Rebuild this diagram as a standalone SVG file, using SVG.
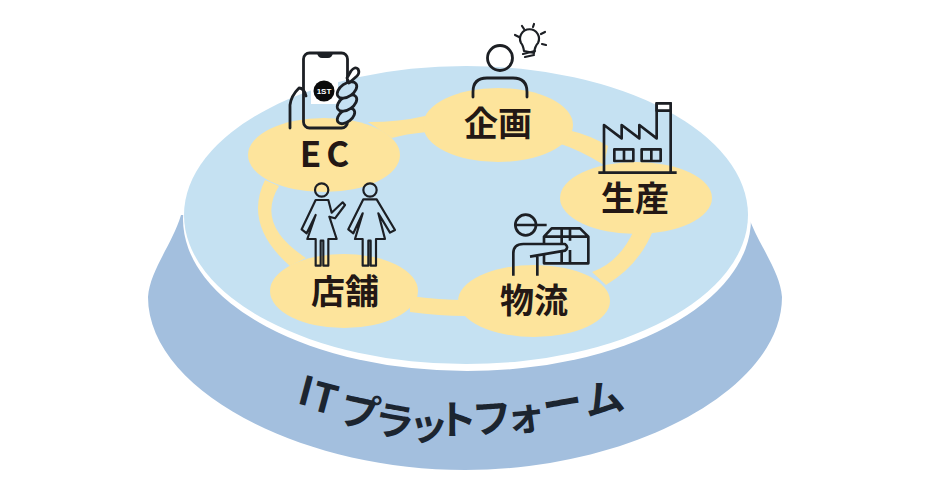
<svg xmlns="http://www.w3.org/2000/svg" width="930" height="495" viewBox="0 0 930 495">
<style>
.lbl{font-family:"Noto Sans CJK JP","Noto Sans",sans-serif;font-weight:700;fill:#231815;text-anchor:middle}
.spot{fill:#fde49c}
.link{fill:#fde49c}
.ic{fill:none;stroke:#1c1f24;stroke-width:2.800;stroke-linecap:round;stroke-linejoin:round}
.ic3{fill:none;stroke:#1c1f24;stroke-width:8;stroke-linejoin:round}
</style>
<rect width="930" height="495" fill="#fff"/>
<g id="platform">
<path fill="#a3bfde" d="M181 215C172 245 150 270 148 297C148 390 300 470 465 470C630 470 782 390 782 297C780 270 758 245 748 215Z"/>
<ellipse cx="467" cy="219" rx="284" ry="152" fill="#fff"/>
<ellipse cx="466" cy="215" rx="282" ry="149" fill="#c5e1f2"/>
<text font-family="'Noto Sans CJK JP','Noto Sans',sans-serif" font-weight="700" font-size="40" fill="#1c2530" x="296 309 337 372 407 437 473 507 545 587" y="403 409 422 432 438 434 434 432 421 417" rotate="15 15 12 10 6 0 -4 -6 -10 -12">ITプラットフォーム</text>
</g>
<g id="connectors">
<path class="link" d="M368 122Q400 122 425 116L427 132Q405 134 392 138Z"/>
<path class="link" d="M568 130Q590 135 608 146L604 165Q580 150 558 143Z"/>
<path class="link" d="M654 228Q640 265 606 285L592 272Q620 262 634 230Z"/>
<path class="link" d="M410 296Q440 300 465 300L465 316Q440 316 410 312Z"/>
<path class="link" d="M265 180Q243 225 290 266L306 258Q255 225 279 186Z"/>
</g>
<g id="node-ec">
<ellipse class="spot" cx="324" cy="155" rx="76" ry="37"/>
<rect x="311" y="75" width="27" height="29" fill="#fff"/>
<rect class="ic" x="303.500" y="53" width="44" height="75" rx="6"/>
<path fill="#1c1f24" d="M317 53H333Q332 58 328 58H322Q318 58 317 53Z"/>
<circle cx="324" cy="91" r="10.500" fill="#0b0b0b"/>
<text x="324" y="94" font-family="'Liberation Sans',sans-serif" font-size="8" font-weight="700" fill="#fff" text-anchor="middle">1ST</text>
<g class="ic" style="fill:#c5e1f2">
<ellipse cx="346" cy="116" rx="10" ry="6" transform="rotate(-38 346 116)"/>
<ellipse cx="347" cy="103" rx="11" ry="6.500" transform="rotate(-35 347 103)"/>
<ellipse cx="347" cy="90" rx="11" ry="6.500" transform="rotate(-35 347 90)"/>
<path style="fill:#fff" d="M347 78L351 71Q355 66 358 69Q360 73 357 76L349 83Z"/>
</g>
<path class="ic" d="M290 128V105Q291 96 299 88Q304 88 306 96"/>
<text class="lbl" x="327" y="167" font-size="35" letter-spacing="5">EC</text>
</g>
<g id="node-kikaku">
<ellipse class="spot" cx="498" cy="125" rx="75" ry="37"/>
<circle class="ic" cx="500" cy="58" r="12.500"/>
<path class="ic" d="M473 97V92Q473 78 487 78H513Q527 78 527 92V97"/>
<g class="ic" style="stroke-width:2.200">
<path d="M524 51Q523 45 521 43A9.500 9.500 0 1 1 538 43Q535 46 534 53Z"/>
<path d="M523 54L535 51M525 57L534 55"/>
<path d="M515 35L519 37M522 26L524 29M534 24L533 27M545 32L541 34M546 45L542 44"/>
</g>
<text class="lbl" x="498" y="136" font-size="34">企画</text>
</g>
<g id="node-seisan">
<ellipse class="spot" cx="636" cy="198" rx="76" ry="36"/>
<g transform="translate(480 90) scale(.33333)">
<path class="ic3" d="M355 248H590M372 248V105L425 145V105L478 145V105L530 145V40H572V248M530 62H572"/>
<path fill="#fff" d="M530 40H572V62H530Z" opacity=".85"/>
<path class="ic3" d="M530 40H572V62H530ZM403 178H460V213H403ZM432 178V213M485 178H542V213H485ZM514 178V213"/>
</g>
<text class="lbl" x="635" y="211" font-size="34">生産</text>
</g>
<g id="node-butsuryu">
<ellipse class="spot" cx="534" cy="301" rx="76" ry="36"/>
<g class="ic3" transform="translate(480 90) scale(.33333)">
<circle cx="137" cy="405" r="31"/>
<path d="M105 405H200M100 557V490Q100 462 130 462H255Q268 472 255 482L150 500M172 500V557"/>
<path d="M192 462V440L215 415H300L325 440V520H192V495M195 440H325M245 415V462M245 485V520M270 415V452M270 480V520"/>
</g>
<text class="lbl" x="534" y="313" font-size="34">物流</text>
</g>
<g id="node-tenpo">
<ellipse class="spot" cx="344" cy="291" rx="74" ry="37"/>
<g class="ic3" style="stroke-width:6.500" transform="translate(250 170) scale(.33333)">
<circle cx="215" cy="60" r="20"/>
<path d="M197 90L155 178L170 190L197 135L172 207H197V287H212V212H220V287H235V207H260L238 140L255 145L285 105L278 97L245 128L235 90Z"/>
<circle cx="360" cy="60" r="20"/>
<path d="M340 88L295 178L310 190L338 130L315 207H338V287H355V212H362V287H378V207H405L385 130L420 188L435 180L380 88Z"/>
</g>
<text class="lbl" x="345" y="304" font-size="34">店舗</text>
</g>
</svg>
